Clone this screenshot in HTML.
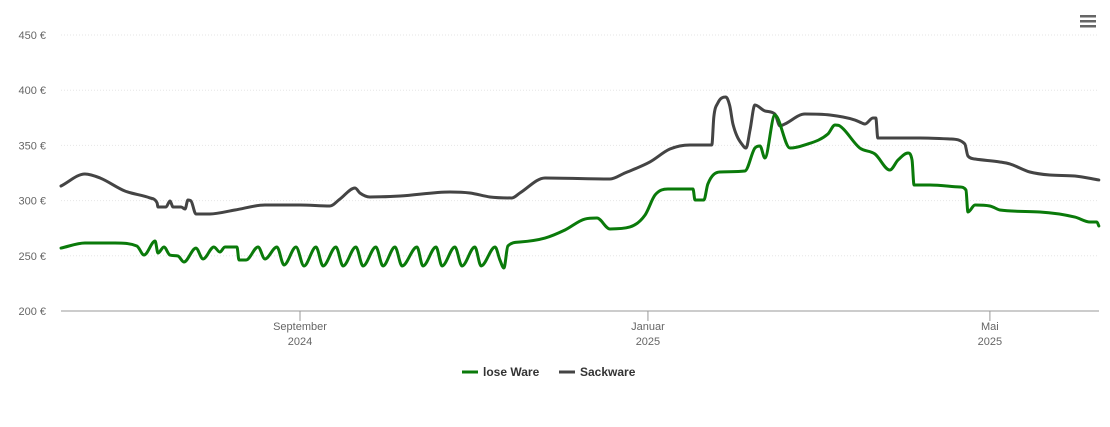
<!DOCTYPE html>
<html><head><meta charset="utf-8">
<style>
body{margin:0;background:#fff;font-family:"Liberation Sans",Arial,sans-serif;}
svg text{font-family:"Liberation Sans",Arial,sans-serif;}
</style></head>
<body>
<svg id="chart" width="1110" height="422" viewBox="0 0 1110 422" xmlns="http://www.w3.org/2000/svg">
<rect width="1110" height="422" fill="#fff"/>
<g id="grid"></g>
<g id="axes"></g>
<g id="series"></g>
<g>
<rect x="1080" y="15" width="16" height="2.5" fill="#666"/>
<rect x="1080" y="20" width="16" height="2.5" fill="#666"/>
<rect x="1080" y="25" width="16" height="2.5" fill="#666"/>
</g>
<g>
<g>
<line x1="462" y1="372" x2="478" y2="372" stroke="#0a7a0a" stroke-width="3"/>
<text x="483" y="376" font-size="12" font-weight="bold" fill="#333">lose Ware</text>
</g>
<g>
<line x1="559" y1="372" x2="575" y2="372" stroke="#444" stroke-width="3"/>
<text x="580" y="376" font-size="12" font-weight="bold" fill="#333">Sackware</text>
</g>
</g>
</svg>
<script>
const yTicks=[200,250,300,350,400,450];
const xTickDays=[83.8,205.8,325.7];
const xTickLabels=[["September","2024"],["Januar","2025"],["Mai","2025"]];
const looseDays=[0,8.4,18.9,26.6,29.1,33,34,36.1,38.2,41,43.1,47.3,49.8,53.6,55.7,57.5,61.7,62.4,64.9,69.1,71.5,75.7,78.2,82.4,85.2,89.4,91.9,96.4,98.9,103.4,105.9,110.4,112.9,117.1,119.6,124.8,126.9,131.5,133.6,138.1,140.6,145.1,147.3,152.2,153.9,155.3,156.7,160.9,169.7,176.7,183.7,187.9,192.5,199.5,204.8,208.3,212.8,221.6,222.3,225.4,226.8,231,239.8,243.3,245.1,246.8,250.3,255.6,260.8,268.9,271.4,273.1,280.1,285.4,290.6,293.5,297,298.4,299.1,304.7,315.2,317.3,318,320.5,325.7,327.5,329.2,343.2,355.5,360.8,363.2,363.9];
const looseValues=[257,261.6,261.6,258.9,250.7,263.4,252.5,258,250.7,249.8,244.4,257,247.1,258,253.4,258,258,246.2,246.2,258,247.1,258,241.7,258,240.8,258,240.8,258,240.8,258,240.8,258,240.8,258,240.8,258,240.8,258,240.8,258,240.8,258,240.8,258,246.2,239,258.9,262.5,266.1,273.4,283.3,284.2,274.3,276.1,287,305.1,310.5,310.5,300.5,300.5,315,325.9,326.8,347.6,349.5,338.6,377.5,347.6,350.4,360.3,368.5,367.6,347.6,342.2,327.7,336.8,343.1,336.8,314.1,314.1,312.3,309.6,289.7,296,295.1,293.3,291.5,289.7,285.1,280.6,280.6,277];
const sackDays=[0,8.4,13.7,22.4,31.2,33.7,34,36.8,38.2,39.3,42.1,43.5,44.5,45.6,47.3,52.2,61,71.5,83.8,94.3,97.8,103.1,104.8,108.3,118.9,136.4,143.4,150.4,158.1,160.9,169.7,192.5,197.7,206.5,213.5,220.5,228.2,228.9,230.3,233.1,234.5,235.6,239.5,240.2,241.6,243.3,246.8,250.3,252.1,253.8,260.8,269.6,278.4,280.8,281.9,284.7,285.7,286.4,301.2,311.7,316.9,318,320.5,329.2,332.7,339.7,346.7,355.5,363.9];
const sackValues=[313.2,324.1,320.5,308.7,302.4,297.8,294.2,294.2,299.6,294.2,294.2,292.4,300.5,299.6,287.9,287.9,291.5,296,296,295.1,301.4,311.4,306.9,303.3,304.2,307.8,306.9,303.3,302.4,306.9,320.5,319.6,325,335,346.7,350.4,350.4,375.7,388.4,393.8,385.7,369.4,348.6,347.6,364,386.6,381.2,378.4,367.6,369.4,378.4,377.5,373,370.3,369.4,374.8,374.8,356.7,356.7,355.8,351.3,340.4,337.7,335,333.2,325.9,323.2,322.3,318.7];

const NS="http://www.w3.org/2000/svg";
function X(d){return 61+d*2.852;}
function Y(v){return 311-(v-200)*1.104;}
function mk(tag,attrs,parent){const e=document.createElementNS(NS,tag);for(const k in attrs)e.setAttribute(k,attrs[k]);parent.appendChild(e);return e;}
const grid=document.getElementById('grid'),axes=document.getElementById('axes'),series=document.getElementById('series');
yTicks.forEach(v=>{
  if(v>200){const l=mk('line',{x1:61,x2:1099,y1:Y(v),y2:Y(v),stroke:'#e6e6e6','stroke-width':1,'stroke-dasharray':'1,2'},grid);
  
  }
  const t=mk('text',{x:46,y:Y(v)+4,'text-anchor':'end','font-size':11,fill:'#666'},axes);
  t.textContent=v+' €';
  
  
});
const ax=mk('line',{x1:61,x2:1099,y1:311,y2:311,stroke:'#999','stroke-width':1},axes);


xTickDays.forEach((d,i)=>{
  const tk=mk('line',{x1:X(d),x2:X(d),y1:311,y2:321,stroke:'#999','stroke-width':1},axes);
  
  
  const t=mk('text',{x:X(d),y:330,'text-anchor':'middle','font-size':11,fill:'#666'},axes);
  t.textContent=xTickLabels[i][0];
  
  
  const t2=mk('text',{x:X(d),y:345,'text-anchor':'middle','font-size':11,fill:'#666'},axes);
  t2.textContent=xTickLabels[i][1];
  
  
});
function monotonePath(xs,ys){
  const n=xs.length,dx=[],m=[],t=[];
  for(let i=0;i<n-1;i++){dx.push(xs[i+1]-xs[i]);m.push((ys[i+1]-ys[i])/(dx[i]||1e-6));}
  t[0]=m[0];t[n-1]=m[n-2];
  for(let i=1;i<n-1;i++){t[i]=(m[i-1]*m[i]<=0)?0:(m[i-1]+m[i])/2;}
  for(let i=0;i<n-1;i++){if(m[i]===0){t[i]=0;t[i+1]=0;continue;}
    const a=t[i]/m[i],b=t[i+1]/m[i],h=a*a+b*b;if(h>9){const s=3/Math.sqrt(h);t[i]=s*a*m[i];t[i+1]=s*b*m[i];}}
  let p='M'+xs[0]+','+ys[0];
  for(let i=0;i<n-1;i++){const h=dx[i]/3;
    p+=' C'+(xs[i]+h)+','+(ys[i]+t[i]*h)+' '+(xs[i+1]-h)+','+(ys[i+1]-t[i+1]*h)+' '+xs[i+1]+','+ys[i+1];}
  return p;
}
function draw(days,vals,color,name){
  const p=mk('path',{d:monotonePath(days.map(X),vals.map(Y)),fill:'none',stroke:color,'stroke-width':3,'stroke-linejoin':'round','stroke-linecap':'round'},series);
  
  
}
draw(sackDays,sackValues,'#444','series-sackware');
draw(looseDays,looseValues,'#0a7a0a','series-lose-ware');
</script>
</body></html>
